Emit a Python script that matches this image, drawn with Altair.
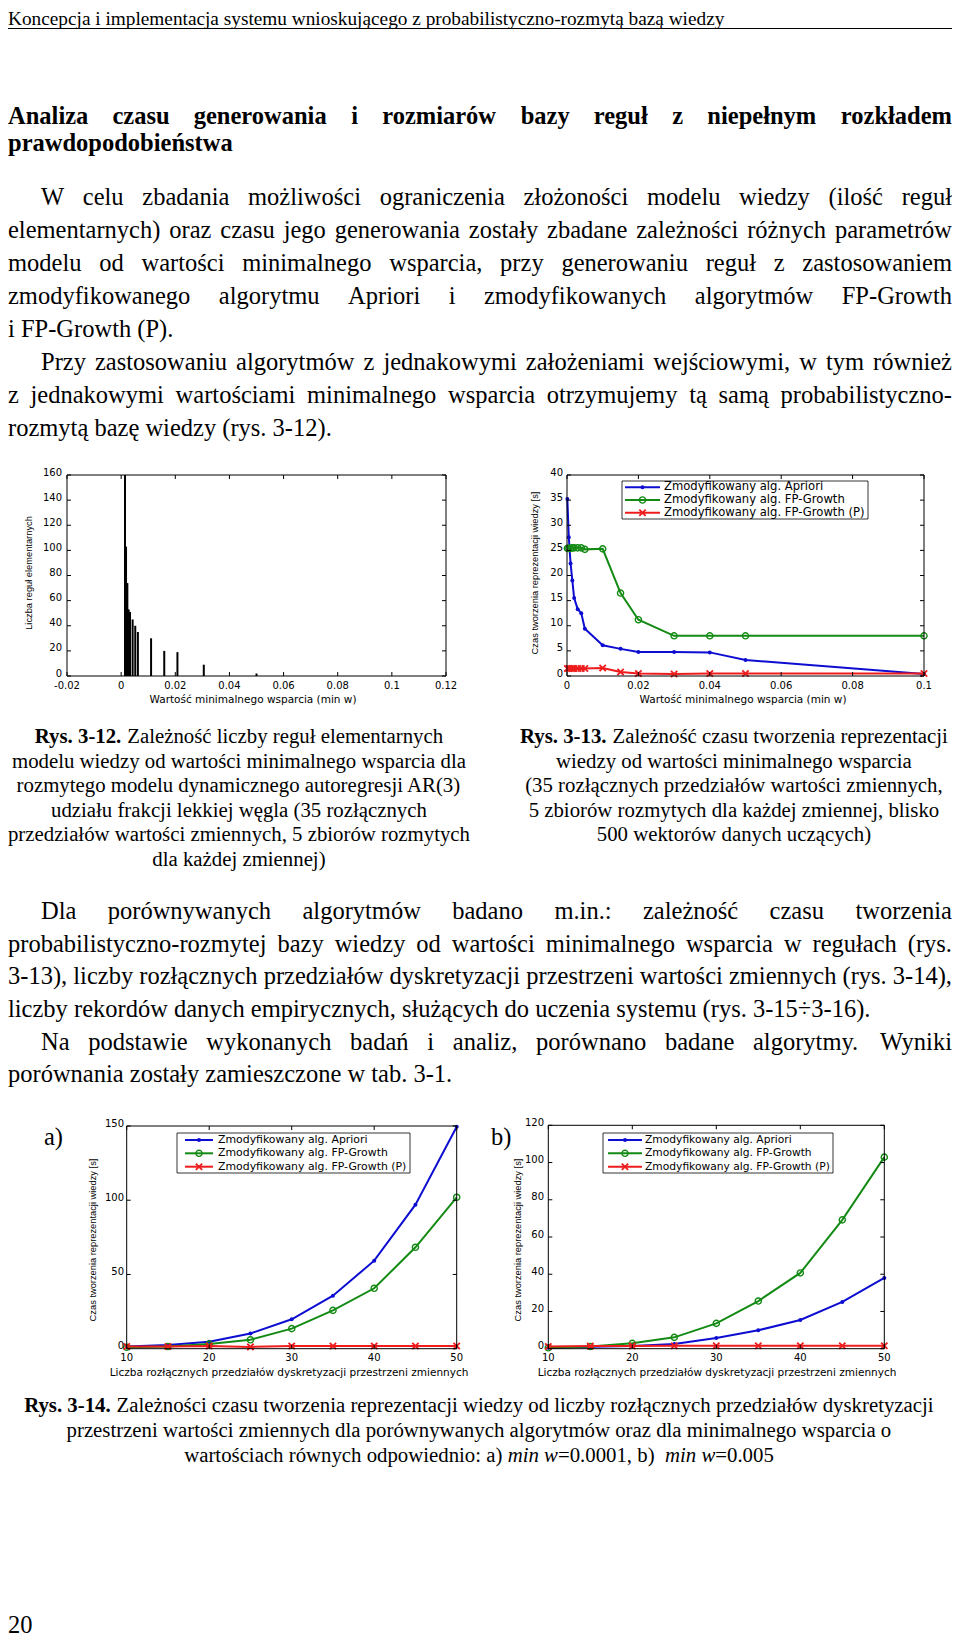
import altair as alt
import pandas as pd

# ======================= TEXT CONTENT =======================
header_text = "Koncepcja i implementacja systemu wnioskującego z probabilistyczno-rozmytą bazą wiedzy"

heading_lines = [
    "Analiza czasu generowania i rozmiarów bazy reguł z niepełnym rozkładem",
    "prawdopodobieństwa",
]

para_top_lines = [
    "W celu zbadania możliwości ograniczenia złożoności modelu wiedzy (ilość reguł",
    "elementarnych) oraz czasu jego generowania zostały zbadane zależności różnych parametrów",
    "modelu od wartości minimalnego wsparcia, przy generowaniu reguł z zastosowaniem",
    "zmodyfikowanego algorytmu Apriori i zmodyfikowanych algorytmów FP-Growth",
    "i FP-Growth (P).",
    "Przy zastosowaniu algorytmów z jednakowymi założeniami wejściowymi, w tym również",
    "z jednakowymi wartościami minimalnego wsparcia otrzymujemy tą samą probabilistyczno-",
    "rozmytą bazę wiedzy (rys. 3-12).",
]
para_top_indent = [1, 0, 0, 0, 0, 1, 0, 0]
para_top_justify = [1, 1, 1, 1, 0, 1, 1, 0]

para_bottom_lines = [
    "Dla porównywanych algorytmów badano m.in.: zależność czasu tworzenia",
    "probabilistyczno-rozmytej bazy wiedzy od wartości minimalnego wsparcia w regułach (rys.",
    "3-13), liczby rozłącznych przedziałów dyskretyzacji przestrzeni wartości zmiennych (rys. 3-14),",
    "liczby rekordów danych empirycznych, służących do uczenia systemu (rys. 3-15÷3-16).",
    "Na podstawie wykonanych badań i analiz, porównano badane algorytmy. Wyniki",
    "porównania zostały zamieszczone w tab. 3-1.",
]
para_bottom_indent = [1, 0, 0, 0, 1, 0]
para_bottom_justify = [1, 1, 1, 0, 1, 0]

# caption segments: (style, text, spaces before)
caption_312 = [
    [("b", "Rys. 3-12.", 0), ("r", "Zależność liczby reguł elementarnych", 1)],
    [("r", "modelu wiedzy od wartości minimalnego wsparcia dla", 0)],
    [("r", "rozmytego modelu dynamicznego autoregresji AR(3)", 0)],
    [("r", "udziału frakcji lekkiej węgla (35 rozłącznych", 0)],
    [("r", "przedziałów wartości zmiennych, 5 zbiorów rozmytych", 0)],
    [("r", "dla każdej zmiennej)", 0)],
]
caption_313 = [
    [("b", "Rys. 3-13.", 0), ("r", "Zależność czasu tworzenia reprezentacji", 1)],
    [("r", "wiedzy od wartości minimalnego wsparcia", 0)],
    [("r", "(35 rozłącznych przedziałów wartości zmiennych,", 0)],
    [("r", "5 zbiorów rozmytych dla każdej zmiennej, blisko", 0)],
    [("r", "500 wektorów danych uczących)", 0)],
]
caption_314 = [
    [("b", "Rys. 3-14.", 0), ("r", "Zależności czasu tworzenia reprezentacji wiedzy od liczby rozłącznych przedziałów dyskretyzacji", 1)],
    [("r", "przestrzeni wartości zmiennych dla porównywanych algorytmów oraz dla minimalnego wsparcia o", 0)],
    [("r", "wartościach równych odpowiednio: a)", 0), ("i", "min w", 1), ("r", "=0.0001, b)", 0),
     ("i", "min w", 2), ("r", "=0.005", 0)],
]

panel_labels = ["a)", "b)"]
page_number = "20"

series_names = ["Zmodyfikowany alg. Apriori", "Zmodyfikowany alg. FP-Growth",
                "Zmodyfikowany alg. FP-Growth (P)"]

fig12_xtitle = "Wartość minimalnego wsparcia (min w)"
fig12_ytitle = "Liczba reguł elementarnych"
time_ytitle = "Czas tworzenia reprezentacji wiedzy [s]"
fig14_xtitle = "Liczba rozłącznych przedziałów dyskretyzacji przestrzeni zmiennych"

# ======================= CHART DATA =======================
# Rys. 3-12 (bars)
fig12_minw = [0.0001, 0.0005, 0.001, 0.0015, 0.002, 0.003, 0.004, 0.005, 0.01, 0.015, 0.02, 0.03, 0.05]
fig12_rules = [160, 103, 74, 53, 51, 45, 40, 35, 30, 20, 19, 9, 2]
fig12_xticks = [-0.02, 0, 0.02, 0.04, 0.06, 0.08, 0.1, 0.12]
fig12_xlabels = ["-0.02", "0", "0.02", "0.04", "0.06", "0.08", "0.1", "0.12"]
fig12_yticks = [0, 20, 40, 60, 80, 100, 120, 140, 160]

# Rys. 3-13 (time vs min support)
fig13_minw = [0.0001, 0.0005, 0.001, 0.0015, 0.002, 0.003, 0.004, 0.005, 0.01, 0.015, 0.02, 0.03, 0.04, 0.05, 0.1]
fig13_apriori = [35.2, 27.6, 22.4, 19.0, 15.5, 13.3, 12.5, 9.4, 6.1, 5.4, 4.8, 4.8, 4.7, 3.2, 0.4]
fig13_fpg = [25.4, 25.4, 25.4, 25.5, 25.5, 25.5, 25.5, 25.2, 25.3, 16.5, 11.2, 8.0, 8.0, 8.0, 8.0]
fig13_fpgp = [1.5, 1.5, 1.5, 1.5, 1.5, 1.5, 1.5, 1.5, 1.6, 0.8, 0.5, 0.4, 0.5, 0.5, 0.5]
fig13_xticks = [0, 0.02, 0.04, 0.06, 0.08, 0.1]
fig13_xlabels = ["0", "0.02", "0.04", "0.06", "0.08", "0.1"]
fig13_yticks = [0, 5, 10, 15, 20, 25, 30, 35, 40]

# Rys. 3-14 a) and b)
fig14_n = [10, 15, 20, 25, 30, 35, 40, 45, 50]
fig14a_apriori = [1.5, 2.5, 4.7, 10.3, 19.8, 35.7, 59.3, 97.0, 149.5]
fig14a_fpg = [1.0, 1.5, 3.1, 6.0, 13.5, 25.8, 40.7, 68.3, 102.0]
fig14a_fpgp = [1.5, 1.5, 1.8, 1.2, 1.8, 1.8, 1.8, 1.8, 1.8]
fig14b_apriori = [0.5, 1.0, 1.5, 2.5, 5.7, 9.9, 15.4, 25.1, 38.0]
fig14b_fpg = [0.5, 1.2, 2.9, 6.1, 13.6, 25.6, 40.7, 69.2, 102.9]
fig14b_fpgp = [1.2, 1.4, 1.5, 1.6, 1.6, 1.6, 1.6, 1.6, 1.6]
fig14_xticks = [10, 20, 30, 40, 50]
fig14a_yticks = [0, 50, 100, 150]
fig14b_yticks = [0, 20, 40, 60, 80, 100, 120]

# ======================= STYLE / LAYOUT =======================
SERIF = "Liberation Serif"
SANS = "DejaVu Sans"
SANS_N = "Liberation Sans"
BLUE, GREEN, RED = "#0d0dd2", "#138a13", "#ee1c1c"
XSHAPE = "M-1,-1L1,1M-1,1L1,-1"

W, H = 944, 1632
OFF = 8


def P(v):
    return v - OFF


def _groups(spec):
    d = {}
    for chars, w in spec:
        for ch in chars:
            d[ch] = w
    return d


TIMES_R = _groups([
    (" .,", 250), ("ijltł/:;", 278), ("fr()-[]I'", 333), ("sśJ", 389),
    ("aąceęćzźż?", 444), ("bdghknopquvxyóń0123456789*", 500),
    ("FPSŚ", 556), ("+=<>÷", 564), ("ELTZŹŻŁĘ", 611), ("BCRĆ", 667),
    ("ADGHKNOQUVXYÓŃĄw", 722), ("m&", 778), ("%", 833), ("M", 889), ("W", 944),
])
TIMES_B = _groups([
    (" .,", 250), ("ilł", 278), ("ftj()-[]:", 333), ("sśI", 389),
    ("ceęćzźżr", 444), ("aąoóvxyg0123456789", 500),
    ("bdhknńpquS", 556), ("FP", 611), ("BELTZŻŹ", 667),
    ("ACDNRUVXYw", 722), ("GHKOQ", 778), ("m", 833), ("M", 944), ("W", 1000),
])
TIMES_I = _groups([
    (" .,", 250), ("fijlt", 278), ("rsz", 389), ("ceykvx", 444),
    ("abdghnopqu0123456789", 500), ("w", 667), ("=", 675), ("m", 722),
])


def tw(s, tbl, fs):
    return sum(tbl.get(c, 500) for c in s) * fs / 1000.0


BODY_FS, HEAD_FS, HDR_FS, CAP_FS = 24.5, 24.5, 19.3, 20.8
LEFT, RIGHT, INDENT = 0, W, P(41)

recs = []


def add(x, y, text, style):
    recs.append(dict(x=x, y=y, text=text, style=style))


def justify(line, x0, x1, y, fs, tbl, style, style_r):
    words = line.split(" ")
    widths = [tw(w, tbl, fs) for w in words]
    gap = (x1 - x0 - sum(widths)) / max(len(words) - 1, 1)
    x = x0
    for i, (w, wd) in enumerate(zip(words, widths)):
        if i == len(words) - 1:
            add(x1, y, w, style_r)
        else:
            add(x, y, w, style)
        x += wd + gap


# header
add(LEFT, 16.5, header_text, "hdr")
# heading
justify(heading_lines[0], LEFT, RIGHT, P(124), HEAD_FS, TIMES_B, "head", "headR")
add(LEFT, P(151), heading_lines[1], "head")

# paragraphs
top_base = [205, 238, 271, 304, 337, 370, 403, 436]
for line, ind, jus, yb in zip(para_top_lines, para_top_indent, para_top_justify, top_base):
    x0 = INDENT if ind else LEFT
    if jus:
        justify(line, x0, RIGHT, P(yb), BODY_FS, TIMES_R, "body", "bodyR")
    else:
        add(x0, P(yb), line, "body")

bot_base = [919, 951.7, 984.3, 1017, 1049.7, 1082]
for line, ind, jus, yb in zip(para_bottom_lines, para_bottom_indent, para_bottom_justify, bot_base):
    x0 = INDENT if ind else LEFT
    if jus:
        justify(line, x0, RIGHT, P(yb), BODY_FS, TIMES_R, "body", "bodyR")
    else:
        add(x0, P(yb), line, "body")

# captions
CAP_TBL = {"r": TIMES_R, "b": TIMES_B, "i": TIMES_I}
CAP_STY = {"r": "cap", "b": "capB", "i": "capI"}


def caption(lines, cx, baselines):
    for segs, yb in zip(lines, baselines):
        parts, total = [], 0.0
        for st, txt, nsp in segs:
            total += nsp * 250 * CAP_FS / 1000.0
            parts.append((total, st, txt))
            total += tw(txt, CAP_TBL[st], CAP_FS)
        x0 = cx - total / 2
        for off, st, txt in parts:
            add(x0 + off, P(yb), txt, CAP_STY[st])


cap_base = [743, 767.5, 792, 816.5, 841, 865.5]
caption(caption_312, 231, cap_base)
caption(caption_313, 726, cap_base)
caption(caption_314, P(479), [1412, 1437, 1462])

# panel labels and page number
add(P(44), P(1145), panel_labels[0], "body")
add(P(491), P(1145), panel_labels[1], "body")
add(LEFT, H - 7, page_number, "body")

STYLES = {
    "hdr": dict(font=SERIF, fontSize=HDR_FS, align="left"),
    "body": dict(font=SERIF, fontSize=BODY_FS, align="left"),
    "bodyR": dict(font=SERIF, fontSize=BODY_FS, align="right"),
    "head": dict(font=SERIF, fontSize=HEAD_FS, fontWeight="bold", align="left"),
    "headR": dict(font=SERIF, fontSize=HEAD_FS, fontWeight="bold", align="right"),
    "cap": dict(font=SERIF, fontSize=CAP_FS, align="left"),
    "capB": dict(font=SERIF, fontSize=CAP_FS, fontWeight="bold", align="left"),
    "capI": dict(font=SERIF, fontSize=CAP_FS, fontStyle="italic", align="left"),
}

layers = []
one = pd.DataFrame({"k": [0]})

tdf = pd.DataFrame(recs)
for st, props in STYLES.items():
    sub = tdf[tdf["style"] == st]
    if len(sub) == 0:
        continue
    layers.append(
        alt.Chart(sub).mark_text(baseline="alphabetic", color="black", **props).encode(
            x=alt.X("x:Q", scale=None, axis=None),
            y=alt.Y("y:Q", scale=None, axis=None),
            text="text:N",
        )
    )

# header underline
layers.append(alt.Chart(one).mark_rule(color="black", strokeWidth=1).encode(
    x=alt.value(0), x2=alt.value(W), y=alt.value(20.5)))

TICK_FS = 10
TITLE_FS = 10.5


# ======================= PANELS =======================
def panel(xdom, xr, ydom, yr, xticks, xlabels, yticks, ylab_x, xlab_y,
          xtitle, xtitle_pos, ytitle, ytitle_pos):
    xs = alt.Scale(domain=xdom, range=xr, nice=False, zero=False)
    ys = alt.Scale(domain=ydom, range=yr, nice=False, zero=False)

    def X(f):
        return alt.X(f, type="quantitative", scale=xs, axis=None)

    def Y(f):
        return alt.Y(f, type="quantitative", scale=ys, axis=None)

    out = []
    frame = pd.DataFrame({"x0": [xdom[0]], "x1": [xdom[1]], "y0": [ydom[0]], "y1": [ydom[1]]})
    out.append(alt.Chart(frame).mark_rect(fill="white", fillOpacity=0, stroke="black", strokeWidth=1).encode(
        x=X("x0"), x2="x1", y=Y("y0"), y2="y1"))
    xt = pd.DataFrame({"v": xticks, "t": xlabels})
    yt = pd.DataFrame({"v": yticks, "t": [str(v) for v in yticks]})
    yb, ytop = yr
    xl, xrr = xr
    for a, b in [(yb, yb - 4), (ytop, ytop + 4)]:
        out.append(alt.Chart(xt).mark_rule(color="black", strokeWidth=1).encode(
            x=X("v"), y=alt.value(a), y2=alt.value(b)))
    for a, b in [(xl, xl + 4), (xrr, xrr - 4)]:
        out.append(alt.Chart(yt).mark_rule(color="black", strokeWidth=1).encode(
            y=Y("v"), x=alt.value(a), x2=alt.value(b)))
    out.append(alt.Chart(xt).mark_text(font=SANS, fontSize=TICK_FS, align="center", baseline="top", color="black").encode(
        x=X("v"), y=alt.value(xlab_y), text="t:N"))
    out.append(alt.Chart(yt).mark_text(font=SANS, fontSize=TICK_FS, align="right", baseline="middle", dy=-2.5, color="black").encode(
        y=Y("v"), x=alt.value(ylab_x), text="t:N"))
    out.append(alt.Chart(one).mark_text(font=SANS, fontSize=TITLE_FS, align="center", baseline="alphabetic", color="black").encode(
        x=alt.value(xtitle_pos[0]), y=alt.value(xtitle_pos[1]), text=alt.value(xtitle)))
    out.append(alt.Chart(one).mark_text(font=SANS_N, fontSize=9.3, align="center", baseline="middle", angle=270, color="black").encode(
        x=alt.value(ytitle_pos[0]), y=alt.value(ytitle_pos[1]), text=alt.value(ytitle)))
    return X, Y, out


def marker(kind, color, data):
    if kind == "dot":
        return alt.Chart(data).mark_circle(color=color, size=16, opacity=1)
    if kind == "circle":
        return alt.Chart(data).mark_point(shape="circle", color=color, filled=False, size=38,
                                          strokeWidth=1.4, opacity=1)
    return alt.Chart(data).mark_point(shape=XSHAPE, color=color, filled=False, size=40,
                                      strokeWidth=1.8, opacity=1)


KINDS = [(BLUE, "dot"), (GREEN, "circle"), (RED, "x")]


def series_layers(df, xf, X, Y, cols):
    out = []
    for col, (color, kind) in zip(cols, KINDS):
        out.append(alt.Chart(df).mark_line(color=color, strokeWidth=2).encode(x=X(xf), y=Y(col)))
        out.append(marker(kind, color, df).encode(x=X(xf), y=Y(col)))
    return out


def legend(box, sx, tx, rows, fs):
    x0, x1, y0, y1 = box
    out = [alt.Chart(one).mark_rect(fill="white", stroke="black", strokeWidth=0.8).encode(
        x=alt.value(x0), x2=alt.value(x1), y=alt.value(y0), y2=alt.value(y1))]
    for name, (color, kind), ry in zip(series_names, KINDS, rows):
        out.append(alt.Chart(one).mark_rule(color=color, strokeWidth=2).encode(
            x=alt.value(sx[0]), x2=alt.value(sx[1]), y=alt.value(ry)))
        out.append(marker(kind, color, one).encode(x=alt.value((sx[0] + sx[1]) / 2), y=alt.value(ry)))
        out.append(alt.Chart(one).mark_text(font=SANS, fontSize=fs, align="left", baseline="middle", color="black").encode(
            x=alt.value(tx), y=alt.value(ry), text=alt.value(name)))
    return out


# --- Rys. 3-12 ---
X1, Y1, ax1 = panel([-0.02, 0.12], [59, 438], [0, 160], [668, 467],
                    fig12_xticks, fig12_xlabels, fig12_yticks, 54, 672.5,
                    fig12_xtitle, (245, 694.5), fig12_ytitle, (21, 565))
df12 = pd.DataFrame({"minw": fig12_minw, "rules": fig12_rules, "zero": [0] * len(fig12_rules)})
layers.append(alt.Chart(df12).mark_bar(size=2, color="black").encode(
    x=X1("minw"), y=Y1("rules"), y2="zero"))
layers += ax1

# --- Rys. 3-13 ---
X2, Y2, ax2 = panel([0, 0.1], [559, 916], [0, 40], [668, 467],
                    fig13_xticks, fig13_xlabels, fig13_yticks, 555, 672.5,
                    fig12_xtitle, (735, 694.5), time_ytitle, (527, 565))
df13 = pd.DataFrame({"w": fig13_minw, "a": fig13_apriori, "f": fig13_fpg, "p": fig13_fpgp})
layers += series_layers(df13, "w", X2, Y2, ["a", "f", "p"])
layers += ax2
layers += legend((614, 860, 473, 511), (617, 652), 656, (479.3, 492, 504.7), 11.6)

# --- Rys. 3-14 a) ---
XA, YA, axa = panel([10, 50], [118.7, 448.7], [0, 150], [1340.7, 1118],
                    fig14_xticks, [str(v) for v in fig14_xticks], fig14a_yticks, 116, 1345,
                    fig14_xtitle, (281, 1367.5), time_ytitle, (85, 1232))
dfa = pd.DataFrame({"n": fig14_n, "a": fig14a_apriori, "f": fig14a_fpg, "p": fig14a_fpgp})
layers += series_layers(dfa, "n", XA, YA, ["a", "f", "p"])
layers += axa
layers += legend((169, 402, 1125, 1165), (177, 205), 210, (1132, 1145.3, 1158.7), 10.9)

# --- Rys. 3-14 b) ---
XB, YB, axb = panel([10, 50], [540.3, 876.3], [0, 120], [1340.7, 1117.3],
                    fig14_xticks, [str(v) for v in fig14_xticks], fig14b_yticks, 536, 1345,
                    fig14_xtitle, (709, 1367.5), time_ytitle, (510, 1232))
dfb = pd.DataFrame({"n": fig14_n, "a": fig14b_apriori, "f": fig14b_fpg, "p": fig14b_fpgp})
layers += series_layers(dfb, "n", XB, YB, ["a", "f", "p"])
layers += axb
layers += legend((595, 825, 1125, 1165), (600, 634), 637, (1132, 1145.3, 1158.7), 10.7)

chart = (
    alt.layer(*layers)
    .properties(width=W, height=H, autosize=alt.AutoSizeParams(type="none"), padding=0, background="white")
    .resolve_scale(x="independent", y="independent")
    .configure_view(strokeWidth=0)
)

chart.save("out.html", embed_options={"renderer": "svg", "actions": False})
